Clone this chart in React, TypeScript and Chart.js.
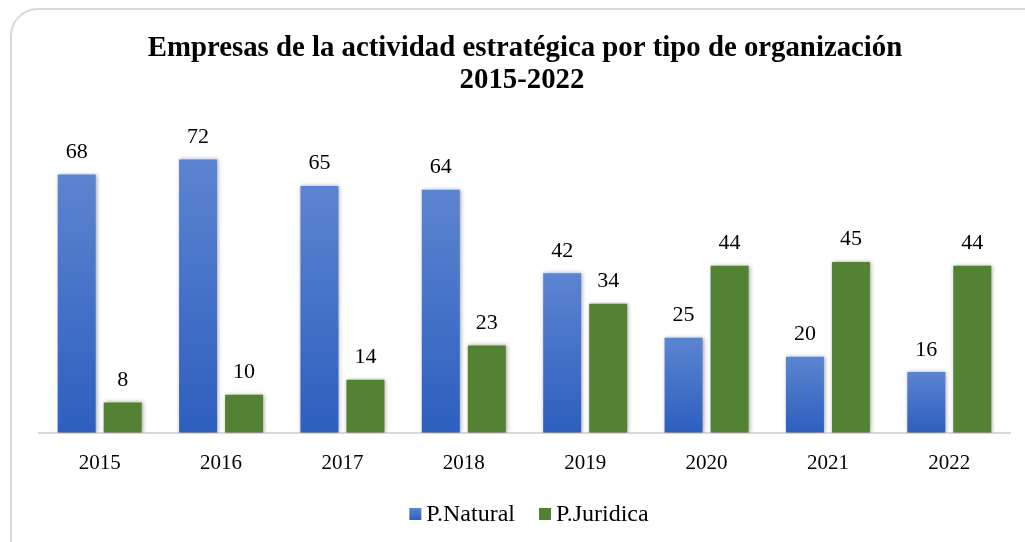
import React, { useEffect, useRef } from "react";
import { Chart, registerables } from "chart.js";

Chart.register(...registerables);

const TITLE_LINES = [
  "Empresas de la actividad estratégica por tipo de organización",
  "2015-2022",
];
const YEARS = ["2015", "2016", "2017", "2018", "2019", "2020", "2021", "2022"];
const NATURAL = [68, 72, 65, 64, 42, 25, 20, 16];
const JURIDICA = [8, 10, 14, 23, 34, 44, 45, 44];
const SERIES_NAMES = ["P.Natural", "P.Juridica"];

const FONT = "'Liberation Serif', 'Times New Roman', serif";
const BLUE_TOP = "#5c84d0";
const BLUE_BOTTOM = "#2d5fbf";
const GREEN = "#548235";

const shadowPlugin = {
  id: "barShadow",
  beforeDatasetsDraw(chart: any) {
    const ctx = chart.ctx;
    ctx.save();
    ctx.shadowColor = "rgba(0,0,0,0.35)";
    ctx.shadowBlur = 4;
    ctx.shadowOffsetX = 1;
    ctx.shadowOffsetY = 0;
  },
  afterDatasetsDraw(chart: any) {
    chart.ctx.restore();
  },
};

const labelsPlugin = {
  id: "valueLabels",
  afterDatasetsDraw(chart: any) {
    const ctx = chart.ctx;
    ctx.save();
    ctx.font = `22px ${FONT}`;
    ctx.fillStyle = "#000";
    ctx.textAlign = "center";
    ctx.textBaseline = "alphabetic";
    chart.data.datasets.forEach((ds: any, i: number) => {
      const meta = chart.getDatasetMeta(i);
      meta.data.forEach((bar: any, j: number) => {
        ctx.fillText(String(ds.data[j]), bar.x, bar.y - 16.5);
      });
    });
    ctx.restore();
  },
};

const titlePlugin = {
  id: "customTitle",
  afterDraw(chart: any) {
    const ctx = chart.ctx;
    ctx.save();
    ctx.font = `bold 28.8px ${FONT}`;
    ctx.fillStyle = "#000";
    ctx.textAlign = "center";
    ctx.textBaseline = "alphabetic";
    ctx.fillText(TITLE_LINES[0], 525, 56);
    ctx.fillText(TITLE_LINES[1], 522, 88);
    ctx.restore();
  },
};

const legendPlugin = {
  id: "customLegend",
  afterDraw(chart: any) {
    const ctx = chart.ctx;
    ctx.save();
    ctx.font = `24px ${FONT}`;
    const box = 12;
    const gapBoxText = 5;
    const gapItems = 24;
    const widths = SERIES_NAMES.map((n) => ctx.measureText(n).width);
    const total =
      widths.reduce((a, b) => a + b, 0) +
      SERIES_NAMES.length * (box + gapBoxText) +
      gapItems * (SERIES_NAMES.length - 1);
    let x = 529 - total / 2;
    const cy = 514;
    SERIES_NAMES.forEach((name, i) => {
      if (i === 0) {
        const g = ctx.createLinearGradient(0, cy - box / 2, 0, cy + box / 2);
        g.addColorStop(0, BLUE_TOP);
        g.addColorStop(1, BLUE_BOTTOM);
        ctx.fillStyle = g;
      } else {
        ctx.fillStyle = GREEN;
      }
      ctx.fillRect(x, cy - box / 2, box, box);
      x += box + gapBoxText;
      ctx.fillStyle = "#000";
      ctx.textAlign = "left";
      ctx.textBaseline = "middle";
      ctx.fillText(name, x, cy + 1);
      x += widths[i] + gapItems;
    });
    ctx.restore();
  },
};

export default function App() {
  const ref = useRef<HTMLCanvasElement | null>(null);

  useEffect(() => {
    if (!ref.current) return;
    const chart = new Chart(ref.current, {
      type: "bar",
      data: {
        labels: YEARS,
        datasets: [
          {
            label: SERIES_NAMES[0],
            data: NATURAL,
            backgroundColor: (c: any) => {
              const ch = c.chart;
              if (!ch.chartArea || c.type !== "data") return BLUE_BOTTOM;
              const ys = ch.scales.y;
              const top = ys.getPixelForValue(c.raw);
              const bottom = ys.getPixelForValue(0);
              const g = ch.ctx.createLinearGradient(0, top, 0, bottom);
              g.addColorStop(0, BLUE_TOP);
              g.addColorStop(1, BLUE_BOTTOM);
              return g;
            },
            borderWidth: 0,
            categoryPercentage: 0.758,
            barPercentage: 0.826,
          },
          {
            label: SERIES_NAMES[1],
            data: JURIDICA,
            backgroundColor: GREEN,
            borderWidth: 0,
            categoryPercentage: 0.758,
            barPercentage: 0.826,
          },
        ],
      },
      options: {
        animation: false,
        responsive: false,
        maintainAspectRatio: false,
        layout: {
          padding: { top: 129, left: 39, right: 15, bottom: 48 },
        },
        plugins: {
          legend: { display: false },
          title: { display: false },
          tooltip: { enabled: false },
        },
        scales: {
          x: {
            grid: { display: false, drawTicks: false, tickLength: 0 },
            border: { display: true, color: "#d9d9d9", width: 2 },
            ticks: {
              color: "#000",
              font: { family: FONT, size: 21 },
              padding: 18,
              maxRotation: 0,
            },
          },
          y: {
            display: false,
            min: 0,
            max: 80,
          },
        },
      },
      plugins: [shadowPlugin, labelsPlugin, titlePlugin, legendPlugin],
    });
    return () => chart.destroy();
  }, []);

  return (
    <div
      style={{
        position: "fixed",
        left: 0,
        top: 0,
        width: 1025,
        height: 542,
        overflow: "hidden",
        background: "#fff",
      }}
    >
      <div
        style={{
          position: "absolute",
          left: 10,
          top: 8,
          width: 1060,
          height: 580,
          border: "2px solid #d9d9d9",
          borderRadius: 28,
          boxSizing: "border-box",
        }}
      />
      <canvas
        ref={ref}
        width={1025}
        height={542}
        style={{ position: "absolute", left: 0, top: 0, width: 1025, height: 542 }}
      />
    </div>
  );
}
